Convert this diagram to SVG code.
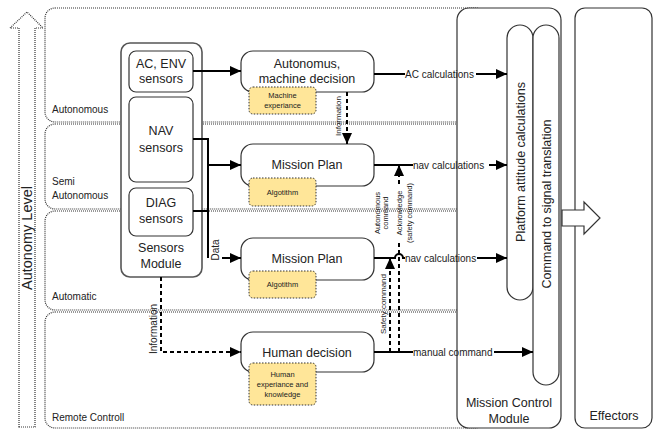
<svg xmlns="http://www.w3.org/2000/svg" width="654" height="430" viewBox="0 0 654 430">
<defs>
<style>
text{font-family:"Liberation Sans",Arial,sans-serif;fill:#222}
.lane{fill:none;stroke:#333;stroke-width:1.2;stroke-dasharray:1 1}
.box{fill:#fff;stroke:#333;stroke-width:1.2}
.yel{fill:#FFE699;stroke:#333;stroke-width:1;stroke-dasharray:1.5 1.5}
.big{font-size:12.5px;text-anchor:middle}
.sm{font-size:7.5px;text-anchor:middle}
.lbl{font-size:10px}
.ln{fill:none;stroke:#000;stroke-width:2}
.dash{fill:none;stroke:#000;stroke-width:2;stroke-dasharray:4 3}
</style>
<marker id="ah" markerUnits="userSpaceOnUse" markerWidth="11" markerHeight="10" refX="11" refY="5" orient="auto">
<path d="M0,0 L11,5 L0,10 z" fill="#000"/>
</marker>
</defs>
<rect width="654" height="430" fill="#fff"/>
<g id="lanes">
<rect class="lane" x="45" y="8" width="440" height="114" rx="10"/>
<rect class="lane" x="45" y="124" width="440" height="85" rx="10"/>
<rect class="lane" x="45" y="211" width="440" height="99" rx="10"/>
<rect class="lane" x="45" y="312" width="440" height="116" rx="10"/>
<text class="lbl" x="52" y="113">Autonomous</text>
<text class="lbl" x="52" y="185">Semi</text>
<text class="lbl" x="52" y="199">Autonomous</text>
<text class="lbl" x="52" y="300">Automatic</text>
<text class="lbl" x="52" y="421">Remote Controll</text>
</g>
<g id="autonomy-level">
<polygon points="19,427 19,28 10,28 27,12 43,28 35,28 35,427" fill="#fff" stroke="#333" stroke-width="1.2" stroke-dasharray="1 1"/>
<text transform="translate(32,238) rotate(-90)" style="font-size:14.5px;text-anchor:middle">Autonomy Level</text>
</g>
<g id="mission-control-module">
<rect class="box" x="457" y="8" width="104" height="420" rx="12"/>
<text class="big" x="509" y="407">Mission Control</text>
<text class="big" x="509" y="423">Module</text>
</g>
<g id="effectors">
<rect class="box" x="575" y="8" width="77" height="420" rx="10"/>
<text class="big" x="614" y="420">Effectors</text>
</g>
<g id="platform-attitude">
<rect class="box" x="507" y="25" width="26" height="275" rx="13"/>
<text class="big" transform="translate(524.5,162) rotate(-90)">Platform attitude calculations</text>
</g>
<g id="command-translation">
<rect class="box" x="533" y="25" width="26" height="360" rx="13"/>
<text class="big" transform="translate(550.5,204) rotate(-90)">Command to signal translation</text>
</g>
<g id="to-effectors">
<polygon points="562,210 584,210 584,202 600,218 584,234 584,226 562,226" fill="#fff" stroke="#333" stroke-width="1.2"/>
</g>
<g id="sensors-module">
<rect x="121" y="43" width="81" height="234" rx="9" fill="#fff" stroke="#555" stroke-width="1.6"/>
<text class="big" x="161" y="252">Sensors</text>
<text class="big" x="161" y="268">Module</text>
</g>
<g id="ac-env-sensors">
<rect class="box" x="129" y="51" width="64" height="41" rx="7"/>
<text class="big" x="161" y="68">AC, ENV</text>
<text class="big" x="161" y="83">sensors</text>
</g>
<g id="nav-sensors">
<rect class="box" x="129" y="97" width="64" height="85" rx="7"/>
<text class="big" x="161" y="135">NAV</text>
<text class="big" x="161" y="152">sensors</text>
</g>
<g id="diag-sensors">
<rect class="box" x="129" y="188" width="64" height="48" rx="7"/>
<text class="big" x="161" y="207">DIAG</text>
<text class="big" x="161" y="223">sensors</text>
</g>
<g id="autonomus-decision">
<rect class="box" x="241" y="51" width="133" height="41" rx="12"/>
<text class="big" x="307" y="67.5">Autonomus,</text>
<text class="big" x="307" y="83">machine decision</text>
<rect class="yel" x="249" y="87" width="67" height="27" rx="4"/>
<text class="sm" x="282.5" y="98">Machine</text>
<text class="sm" x="282.5" y="108">experiance</text>
</g>
<g id="mission-plan-1">
<rect class="box" x="241" y="144" width="133" height="42" rx="12"/>
<text class="big" x="307" y="169">Mission Plan</text>
<rect class="yel" x="249" y="178" width="67" height="28" rx="4"/>
<text class="sm" x="282.5" y="195">Algotithm</text>
</g>
<g id="mission-plan-2">
<rect class="box" x="241" y="238" width="133" height="42" rx="12"/>
<text class="big" x="307" y="263">Mission Plan</text>
<rect class="yel" x="249" y="271" width="67" height="27" rx="4"/>
<text class="sm" x="282.5" y="287">Algotithm</text>
</g>
<g id="human-decision">
<rect class="box" x="241" y="332" width="133" height="40" rx="12"/>
<text class="big" x="307" y="357">Human decision</text>
<rect class="yel" x="249" y="363" width="67" height="42" rx="4"/>
<text class="sm" x="282.5" y="377">Human</text>
<text class="sm" x="282.5" y="387">experiance and</text>
<text class="sm" x="282.5" y="397">knowledge</text>
</g>
<g id="connectors">
<line class="ln" x1="193" y1="71" x2="241" y2="71" marker-end="url(#ah)"/>
<polyline class="ln" points="193,139 208,139 208,258"/>
<line class="ln" x1="193" y1="211" x2="208" y2="211"/>
<line class="ln" x1="208" y1="165" x2="241" y2="165" marker-end="url(#ah)"/>
<line class="ln" x1="222" y1="258" x2="241" y2="258" marker-end="url(#ah)"/>
<text class="lbl" transform="translate(219,250) rotate(-90)" style="text-anchor:middle">Data</text>
<line class="dash" x1="347" y1="92" x2="347" y2="144" marker-end="url(#ah)"/>
<text transform="translate(341,116) rotate(-90)" style="font-size:8px;text-anchor:middle">Information</text>
<polyline class="dash" points="161,277 161,352 241,352" marker-end="url(#ah)"/>
<text class="lbl" transform="translate(157,329) rotate(-90)" style="text-anchor:middle">Information</text>
<line class="ln" x1="374" y1="74" x2="405" y2="74"/>
<text class="lbl" x="405" y="77.5">AC calculations</text>
<line class="ln" x1="476" y1="74" x2="507" y2="74" marker-end="url(#ah)"/>
<line class="ln" x1="374" y1="165" x2="413" y2="165"/>
<text class="lbl" x="413" y="168.5">nav calculations</text>
<line class="ln" x1="489" y1="165" x2="507" y2="165" marker-end="url(#ah)"/>
<path class="ln" d="M374,258 L395,258 A4,4 0 0 1 403,258 L405,258"/>
<text class="lbl" x="405" y="261.5">nav calculations</text>
<line class="ln" x1="477" y1="258" x2="507" y2="258" marker-end="url(#ah)"/>
<line class="ln" x1="374" y1="352" x2="413" y2="352"/>
<text class="lbl" x="413" y="355.5">manual command</text>
<line class="ln" x1="494" y1="352" x2="533" y2="352" marker-end="url(#ah)"/>
<line class="dash" x1="399" y1="352" x2="399" y2="243"/>
<line class="dash" x1="399" y1="184" x2="399" y2="165" marker-end="url(#ah)"/>
<line class="dash" x1="390" y1="352" x2="390" y2="258" marker-end="url(#ah)"/>
<text transform="translate(386,304) rotate(-90)" style="font-size:8px;text-anchor:middle">Safety command</text>
<text transform="translate(380,213) rotate(-90)" style="font-size:7.5px;text-anchor:middle">Autonomous</text>
<text transform="translate(388,213) rotate(-90)" style="font-size:7.5px;text-anchor:middle">command</text>
<text transform="translate(402,213) rotate(-90)" style="font-size:7.5px;text-anchor:middle">Acknowledge</text>
<text transform="translate(412,213) rotate(-90)" style="font-size:7.5px;text-anchor:middle">(safety command)</text>
</g>
</svg>
